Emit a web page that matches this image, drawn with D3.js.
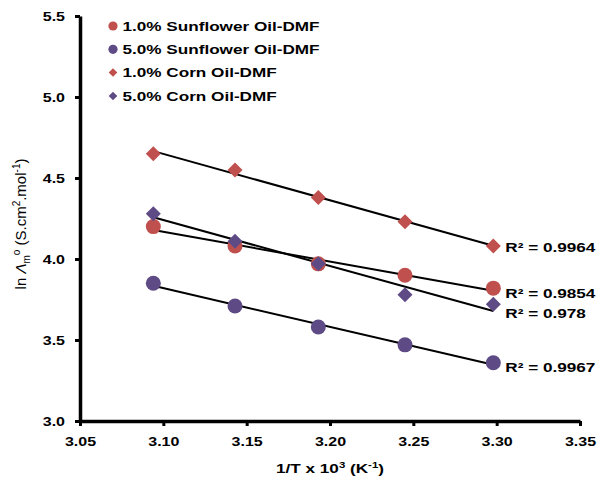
<!DOCTYPE html>
<html><head><meta charset="utf-8">
<script src="https://cdn.jsdelivr.net/npm/d3@7"></script>
<style>body{margin:0;background:#fff} text{font-family:"Liberation Sans",Arial,sans-serif;fill:#000}</style>
</head><body><svg id="c" width="600" height="477"></svg>
<script>
// ---- data ----
const xValues = [3.094, 3.143, 3.193, 3.245, 3.298];
const sunflower1 = [4.20, 4.08, 3.97, 3.90, 3.82];
const sunflower5 = [3.85, 3.71, 3.58, 3.47, 3.36];
const corn1 = [4.65, 4.55, 4.38, 4.23, 4.08];
const corn5 = [4.28, 4.11, 3.97, 3.78, 3.72];
const seriesNames = ["1.0% Sunflower Oil-DMF", "5.0% Sunflower Oil-DMF", "1.0% Corn Oil-DMF", "5.0% Corn Oil-DMF"];
const seriesShapes = ["circle", "circle", "diamond", "diamond"];
const r2Labels = ["R\u00B2 = 0.9854", "R\u00B2 = 0.9967", "R\u00B2 = 0.9964", "R\u00B2 = 0.978"];
const xTicks = [3.05, 3.10, 3.15, 3.20, 3.25, 3.30, 3.35];
const yTicks = [3.0, 3.5, 4.0, 4.5, 5.0, 5.5];

const RED = "#C0504D", PURPLE = "#5E4A85";
const seriesColors = [RED, PURPLE, RED, PURPLE];
const seriesValues = [sunflower1, sunflower5, corn1, corn5];

const svg = d3.select("#c");
const x = d3.scaleLinear().domain([3.05, 3.35]).range([80, 580]);
const y = d3.scaleLinear().domain([3.0, 5.5]).range([421, 16]);

function diamondPath(h) { return `M0,${-h}L${h},0L0,${h}L${-h},0Z`; }
function marker(g, shape, color, r) {
  if (shape === "circle") g.append("circle").attr("r", r).attr("fill", color);
  else g.append("path").attr("d", diamondPath(r)).attr("fill", color);
}
function linreg(xs, ys) {
  const n = xs.length, mx = d3.mean(xs), my = d3.mean(ys);
  let sxy = 0, sxx = 0;
  for (let i = 0; i < n; i++) { sxy += (xs[i]-mx)*(ys[i]-my); sxx += (xs[i]-mx)**2; }
  const b = sxy / sxx; return { b, a: my - b*mx };
}

// ---- axes ----
const SX = 1.23;
const xAxis = svg.append("g").attr("transform", `translate(0,${y(3.0)})`)
  .call(d3.axisBottom(x).tickValues(xTicks).tickFormat(d3.format(".2f")).tickSize(5).tickSizeOuter(0));
const yAxis = svg.append("g").attr("transform", `translate(${x(3.05)},0)`)
  .call(d3.axisLeft(y).tickValues(yTicks).tickFormat(d3.format(".1f")).tickSize(5).tickSizeOuter(0));
[xAxis, yAxis].forEach(a => {
  a.select(".domain").attr("stroke", "#000").attr("stroke-width", 3.5);
  a.selectAll(".tick line").attr("stroke", "#000").attr("stroke-width", 3);
  a.selectAll(".tick text").attr("font-size", 13).attr("font-weight", "bold")
    .attr("font-family", "Liberation Sans, Arial, sans-serif").attr("fill", "#000");
});
xAxis.selectAll(".tick text").attr("y", 25).attr("dy", 0).attr("transform", `scale(${SX},1)`);
yAxis.selectAll(".tick text").attr("x", -15 / SX).attr("dy", "0.35em").attr("transform", `scale(${SX},1)`);

// ---- trendlines ----
const fits = seriesValues.map(v => linreg(xValues, v));
const x0 = xValues[0], x1 = xValues[xValues.length - 1];
fits.forEach(f => {
  svg.append("line")
    .attr("x1", x(x0)).attr("y1", y(f.a + f.b*x0))
    .attr("x2", x(x1)).attr("y2", y(f.a + f.b*x1))
    .attr("stroke", "#000").attr("stroke-width", 2);
});

// ---- markers ----
seriesValues.forEach((vals, si) => {
  vals.forEach((v, i) => {
    const g = svg.append("g").attr("transform", `translate(${x(xValues[i])},${y(v)})`);
    marker(g, seriesShapes[si], seriesColors[si], 7.5);
  });
});

// ---- R² labels ----
fits.forEach((f, si) => {
  const g = svg.append("g").attr("transform", `translate(${x(x1) + 12},${y(f.a + f.b*x1) + 2}) scale(1.27,1)`);
  g.append("text").attr("font-size", 13.5).attr("font-weight", "bold").attr("dy", "0.35em").text(r2Labels[si]);
});

// ---- legend ----
const legendY = [26, 49.3, 72.5, 96];
seriesNames.forEach((name, i) => {
  const g = svg.append("g").attr("transform", `translate(113,${legendY[i]})`);
  marker(g, seriesShapes[i], seriesColors[i], seriesShapes[i] === "circle" ? 4.6 : 4.3);
  svg.append("g").attr("transform", `translate(122.5,${legendY[i]}) scale(1.27,1)`)
    .append("text").attr("font-size", 13.5).attr("font-weight", "bold").attr("dy", "0.36em").text(name);
});

// ---- axis titles ----
const xt = svg.append("g").attr("transform", `translate(330,473) scale(1.27,1)`)
  .append("text").attr("text-anchor", "middle").attr("font-size", 13.5).attr("font-weight", "bold");
xt.append("tspan").text("1/T x 10");
xt.append("tspan").attr("font-size", 9).attr("dy", -5).text("3");
xt.append("tspan").attr("dy", 5).text(" (K");
xt.append("tspan").attr("font-size", 9).attr("dy", -5).text("-1");
xt.append("tspan").attr("dy", 5).text(")");

const yt = svg.append("g").attr("transform", `translate(26,224) rotate(-90)`)
  .append("text").attr("text-anchor", "middle").attr("font-size", 15);
yt.append("tspan").text("ln ");
yt.append("tspan").attr("font-style", "italic").text("\u039B");
yt.append("tspan").attr("font-size", 10).attr("dy", 4).text("m");
yt.append("tspan").attr("font-size", 10).attr("dy", -10).text("o");
yt.append("tspan").attr("dy", 6).text(" (S.cm");
yt.append("tspan").attr("font-size", 10).attr("dy", -6).text("2");
yt.append("tspan").attr("dy", 6).text(".mol");
yt.append("tspan").attr("font-size", 10).attr("dy", -6).text("-1");
yt.append("tspan").attr("dy", 6).text(")");
</script></body></html>
